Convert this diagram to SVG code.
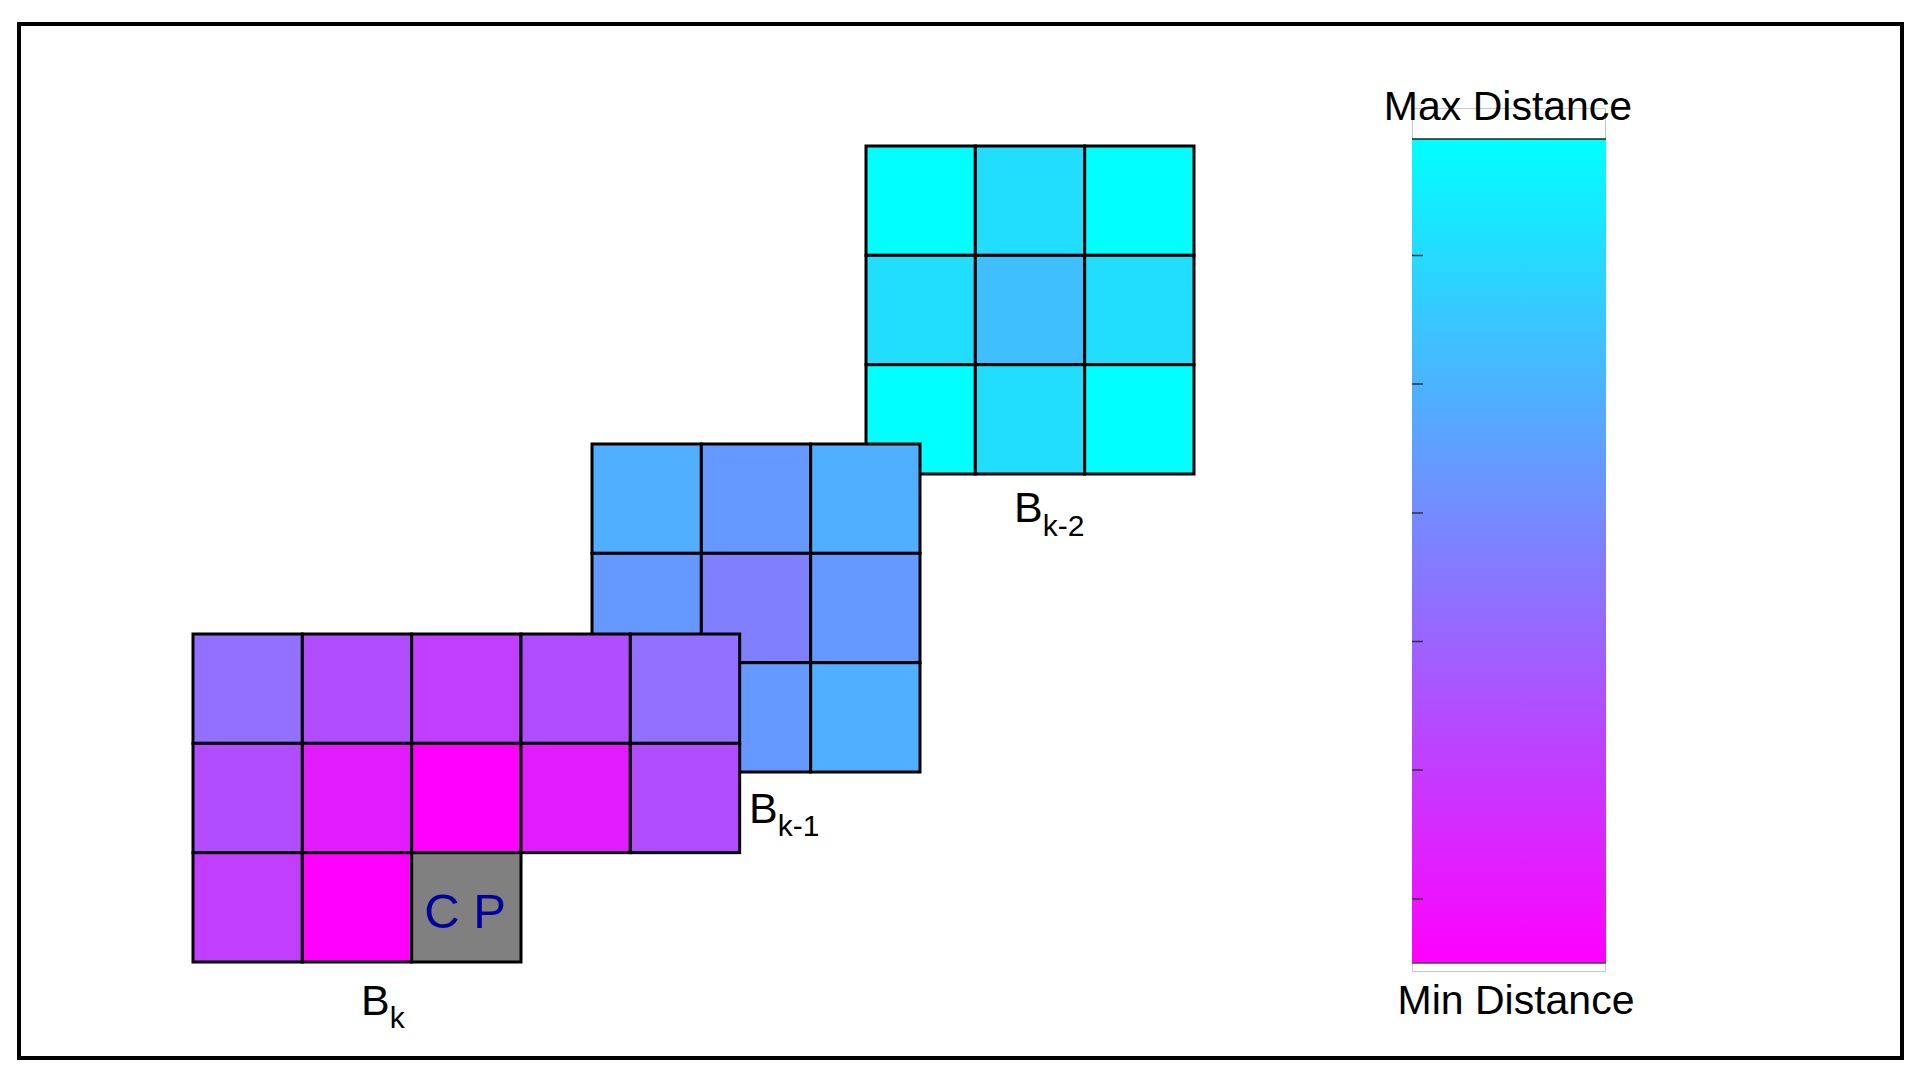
<svg xmlns="http://www.w3.org/2000/svg" width="1926" height="1080" viewBox="0 0 1926 1080">
<defs>
<linearGradient id="bar" x1="0" y1="0" x2="0" y2="1">
<stop offset="0" stop-color="#00FFFF"/>
<stop offset="1" stop-color="#FF00FF"/>
</linearGradient>
<style>
.c{stroke:#000;stroke-width:3}
.lbl{font-family:"Liberation Sans",Arial,sans-serif;font-size:43px;fill:#000}
.leg{font-size:41px}
.sub{font-size:30px}
.tick{stroke:#333;stroke-width:1.5}
</style>
</defs>
<rect width="1926" height="1080" fill="#fff"/>
<rect x="19" y="24" width="1883" height="1034" fill="none" stroke="#000" stroke-width="4"/>

<g id="block-k2">
<rect class="c" x="866" y="146" width="109.33" height="109.33" fill="#00FFFF"/>
<rect class="c" x="975.33" y="146" width="109.33" height="109.33" fill="#21DEFF"/>
<rect class="c" x="1084.67" y="146" width="109.33" height="109.33" fill="#00FFFF"/>
<rect class="c" x="866" y="255.33" width="109.33" height="109.33" fill="#21DEFF"/>
<rect class="c" x="975.33" y="255.33" width="109.33" height="109.33" fill="#40BFFF"/>
<rect class="c" x="1084.67" y="255.33" width="109.33" height="109.33" fill="#21DEFF"/>
<rect class="c" x="866" y="364.67" width="109.33" height="109.33" fill="#00FFFF"/>
<rect class="c" x="975.33" y="364.67" width="109.33" height="109.33" fill="#21DEFF"/>
<rect class="c" x="1084.67" y="364.67" width="109.33" height="109.33" fill="#00FFFF"/>
<text class="lbl" x="1014" y="522">B<tspan class="sub" dy="14">k-2</tspan></text>
</g>

<g id="block-k1">
<rect class="c" x="592" y="444" width="109.33" height="109.33" fill="#50AFFF"/>
<rect class="c" x="701.33" y="444" width="109.33" height="109.33" fill="#6699FF"/>
<rect class="c" x="810.67" y="444" width="109.33" height="109.33" fill="#50AFFF"/>
<rect class="c" x="592" y="553.33" width="109.33" height="109.33" fill="#6699FF"/>
<rect class="c" x="701.33" y="553.33" width="109.33" height="109.33" fill="#8080FF"/>
<rect class="c" x="810.67" y="553.33" width="109.33" height="109.33" fill="#6699FF"/>
<rect class="c" x="592" y="662.67" width="109.33" height="109.33" fill="#50AFFF"/>
<rect class="c" x="701.33" y="662.67" width="109.33" height="109.33" fill="#6699FF"/>
<rect class="c" x="810.67" y="662.67" width="109.33" height="109.33" fill="#50AFFF"/>
<text class="lbl" x="749" y="823">B<tspan class="sub" dy="13">k-1</tspan></text>
</g>

<g id="block-k">
<rect class="c" x="193" y="634" width="109.33" height="109.33" fill="#9370FF"/>
<rect class="c" x="302.33" y="634" width="109.33" height="109.33" fill="#B24DFF"/>
<rect class="c" x="411.67" y="634" width="109.33" height="109.33" fill="#C13EFF"/>
<rect class="c" x="521" y="634" width="109.33" height="109.33" fill="#B24DFF"/>
<rect class="c" x="630.33" y="634" width="109.33" height="109.33" fill="#9370FF"/>
<rect class="c" x="193" y="743.33" width="109.33" height="109.33" fill="#B24DFF"/>
<rect class="c" x="302.33" y="743.33" width="109.33" height="109.33" fill="#E31CFF"/>
<rect class="c" x="411.67" y="743.33" width="109.33" height="109.33" fill="#FF00FF"/>
<rect class="c" x="521" y="743.33" width="109.33" height="109.33" fill="#E31CFF"/>
<rect class="c" x="630.33" y="743.33" width="109.33" height="109.33" fill="#B24DFF"/>
<rect class="c" x="193" y="852.67" width="109.33" height="109.33" fill="#C13EFF"/>
<rect class="c" x="302.33" y="852.67" width="109.33" height="109.33" fill="#FF00FF"/>
<rect class="c" x="411.67" y="852.67" width="109.33" height="109.33" fill="#808080"/>
<text x="465" y="928" text-anchor="middle" style="font-family:'Liberation Sans',Arial,sans-serif;font-size:49px;fill:#00009C">C P</text>
<text class="lbl" x="361" y="1015">B<tspan class="sub" dy="13">k</tspan></text>
</g>

<g id="colorbar">
<rect x="1412.5" y="108.5" width="193" height="863" fill="#fff" stroke="#c8c8c8" stroke-width="1"/>
<rect x="1412" y="139" width="194" height="824" fill="url(#bar)"/>
<line x1="1412" y1="139" x2="1606" y2="139" stroke="#222" stroke-width="1.5"/>
<line x1="1412" y1="963" x2="1606" y2="963" stroke="#444" stroke-width="1.5"/>
<line class="tick" x1="1412" y1="255.5" x2="1423" y2="255.5"/>
<line class="tick" x1="1412" y1="384" x2="1423" y2="384"/>
<line class="tick" x1="1412" y1="513" x2="1423" y2="513"/>
<line class="tick" x1="1412" y1="641.5" x2="1423" y2="641.5"/>
<line class="tick" x1="1412" y1="770" x2="1423" y2="770"/>
<line class="tick" x1="1412" y1="899" x2="1423" y2="899"/>
<text class="lbl leg" x="1508" y="120" text-anchor="middle">Max Distance</text>
<text class="lbl leg" x="1516" y="1014" text-anchor="middle">Min Distance</text>
</g>

<g id="connectors"></g>
</svg>
